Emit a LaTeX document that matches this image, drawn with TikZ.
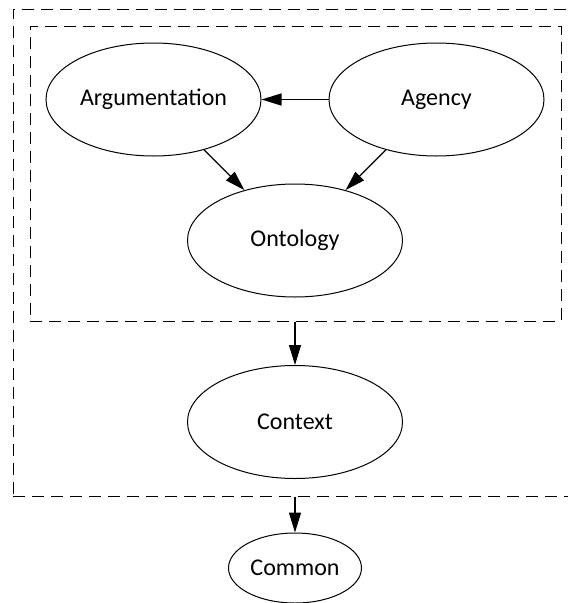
\documentclass[tikz,border=0pt]{standalone}
\usepackage{fontspec}
\setmainfont{Carlito}
\usetikzlibrary{shapes.geometric,arrows.meta}
\begin{document}
\begin{tikzpicture}[x=1pt,y=-1pt,
    blob/.style={ellipse,draw,line width=1pt,inner sep=0pt,minimum width=215pt,minimum height=113pt,font=\fontsize{24}{28}\selectfont},
    region/.style={draw,dash pattern=on 12pt off 7pt,line width=1pt,inner sep=0pt},
    >={Triangle[length=20pt,width=12pt]}]
    \clip (0,0) rectangle (568,603);
    \node[region,minimum width=565pt,minimum height=487pt] (outer) at (295.5,252.5) {};
    \node[region,minimum width=531pt,minimum height=295pt] (inner) at (295.5,173.5) {};
    \node[blob] (argum) at (153.5,99.5) {Argumentation};
    \node[blob] (agency) at (436.5,99.5) {Agency};
    \node[blob] (onto) at (295,240.5) {Ontology};
    \node[blob] (context) at (295,422) {Context};
    \node[blob,minimum width=133pt,minimum height=70pt] (common) at (295,568) {Common};
    \draw[->,line width=1.3pt] (agency) -- (argum);
    \draw[->,line width=1.3pt] (argum) -- (onto);
    \draw[->,line width=1.3pt] (agency) -- (onto);
    \draw[->,line width=1.3pt] (inner.south -| context) -- (context);
    \draw[->,line width=1.3pt] (outer.south -| common) -- (common);
\end{tikzpicture}
\end{document}
